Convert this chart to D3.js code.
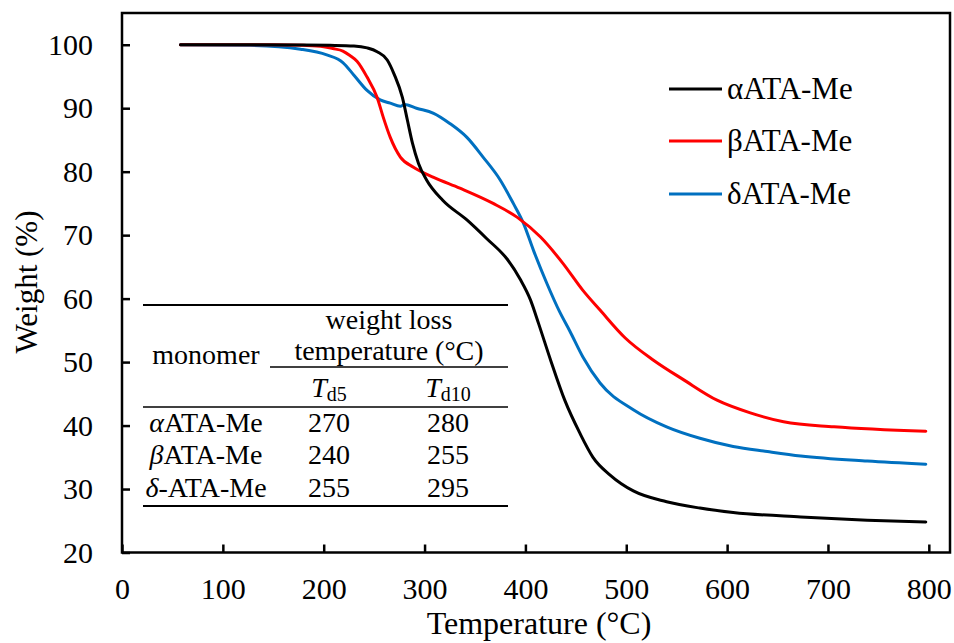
<!DOCTYPE html>
<html>
<head>
<meta charset="utf-8">
<script src="https://cdn.jsdelivr.net/npm/d3@7"></script>
<style>
  html, body { margin: 0; padding: 0; background: #fff; }
  svg, svg text { font-family: "Liberation Serif", "DejaVu Serif", serif; }
</style>
</head>
<body>
<svg id="chart" width="954" height="643"></svg>
<script>
// TGA curves: temperature (°C) and remaining weight (%)
const tempAlpha = [58, 127, 180, 206, 230, 243, 253, 263, 270, 278, 283, 288, 294, 302, 318, 342, 362, 382, 395, 405, 413, 425, 439, 454, 467, 484, 507, 540, 573, 606, 673, 739, 797];
const weightAlpha = [100, 100, 99.95, 99.9, 99.8, 99.5, 98.9, 97.6, 95.3, 91.7, 88.1, 84.5, 81.3, 78.7, 75.5, 72.4, 69.4, 66.2, 63.0, 59.8, 56.1, 50.3, 44.0, 38.8, 35.0, 32.2, 29.7, 28.0, 27.0, 26.3, 25.6, 25.1, 24.8];

const tempBeta = [58, 150, 180, 200, 209, 219, 226, 233, 243, 253, 259, 266, 276, 289, 309, 335, 368, 392, 415, 437, 457, 474, 499, 527, 557, 590, 623, 656, 706, 797];
const weightBeta = [100, 100, 99.9, 99.7, 99.4, 99.0, 98.3, 97.4, 94.9, 91.7, 88.6, 85.4, 82.3, 80.7, 79.1, 77.4, 75.0, 72.8, 69.7, 65.6, 61.3, 58.2, 53.8, 50.3, 47.2, 44.0, 42.0, 40.6, 39.8, 39.1];

const tempDelta = [58, 127, 177, 203, 219, 230, 243, 256, 266, 276, 280, 292, 309, 325, 342, 358, 375, 388, 398, 408, 421, 434, 444, 457, 474, 507, 540, 573, 606, 640, 673, 739, 797];
const weightDelta = [100, 99.9, 99.3, 98.4, 97.2, 95.2, 92.8, 91.3, 90.8, 90.3, 90.6, 90.0, 89.2, 87.6, 85.4, 82.3, 78.7, 75.0, 71.9, 67.6, 62.5, 57.9, 54.9, 50.8, 46.7, 42.5, 39.8, 38.0, 36.7, 35.9, 35.2, 34.4, 33.9];

const seriesNames = ["\u03b1ATA-Me", "\u03b2ATA-Me", "\u03b4ATA-Me"];
const seriesColors = ["#000000", "#ff0000", "#0070c0"];

const xTicks = [0, 100, 200, 300, 400, 500, 600, 700, 800];
const yTicks = [20, 30, 40, 50, 60, 70, 80, 90, 100];

// Inset table of decomposition temperatures
const tableMonomers = [["\u03b1", "ATA-Me"], ["\u03b2", "ATA-Me"], ["\u03b4", "-ATA-Me"]];
const tableTd5 = [270, 240, 255];
const tableTd10 = [280, 255, 295];

const serif = '"Liberation Serif", "DejaVu Serif", serif';
const svg = d3.select("#chart");
const plotLeft = 122, plotRight = 950, plotTop = 13, plotBottom = 552.5;

const x = d3.scaleLinear().domain([0, 821]).range([plotLeft, plotRight]);
const y = d3.scaleLinear().domain([20, 105]).range([plotBottom, plotTop]);

// Axes with inward ticks
const xAxis = svg.append("g")
  .attr("transform", `translate(0,${plotBottom})`)
  .call(d3.axisBottom(x).tickValues(xTicks).tickSize(-8).tickPadding(25).tickFormat(d3.format("d")));
const yAxis = svg.append("g")
  .attr("transform", `translate(${plotLeft},0)`)
  .call(d3.axisLeft(y).tickValues(yTicks).tickSize(-8).tickPadding(29).tickFormat(d3.format("d")));

[xAxis, yAxis].forEach(g => {
  g.attr("font-family", serif).attr("font-size", 30);
  g.select(".domain").remove();
  g.selectAll(".tick line").attr("stroke", "#000").attr("stroke-width", 2.5);
  g.selectAll(".tick text").attr("fill", "#000");
});

// Plot frame
svg.append("rect")
  .attr("x", plotLeft).attr("y", plotTop)
  .attr("width", plotRight - plotLeft).attr("height", plotBottom - plotTop)
  .attr("fill", "none").attr("stroke", "#000").attr("stroke-width", 2.5);

// Axis titles
svg.append("text")
  .attr("x", 539).attr("y", 634)
  .attr("text-anchor", "middle")
  .attr("font-family", serif).attr("font-size", 32)
  .text("Temperature (\u00b0C)");
svg.append("text")
  .attr("transform", "translate(37,282) rotate(-90)")
  .attr("text-anchor", "middle")
  .attr("font-family", serif).attr("font-size", 31)
  .text("Weight (%)");

// Curves
const line = d3.line()
  .x(d => x(d[0]))
  .y(d => y(d[1]))
  .curve(d3.curveMonotoneX);

const series = [
  d3.zip(tempAlpha, weightAlpha),
  d3.zip(tempBeta, weightBeta),
  d3.zip(tempDelta, weightDelta)
];
// blue and red go down first so black sits on top where they overlap at 100 %
[2, 1, 0].forEach(i => {
  svg.append("path")
    .datum(series[i])
    .attr("d", line)
    .attr("fill", "none")
    .attr("stroke", seriesColors[i])
    .attr("stroke-width", 3)
    .attr("stroke-linejoin", "round")
    .attr("stroke-linecap", "round");
});

// Legend
const legend = svg.append("g").attr("font-family", serif).attr("font-size", 31);
const legendY = [89, 141, 194];
seriesNames.forEach((name, i) => {
  legend.append("line")
    .attr("x1", 669).attr("x2", 722)
    .attr("y1", legendY[i]).attr("y2", legendY[i])
    .attr("stroke", seriesColors[i]).attr("stroke-width", 3);
  legend.append("text")
    .attr("x", 727).attr("y", legendY[i] + 10)
    .text(name);
});

// Table
const tbl = svg.append("g").attr("font-family", serif).attr("font-size", 28);
const rule = (x1, x2, yy, w) => tbl.append("line")
  .attr("x1", x1).attr("x2", x2).attr("y1", yy).attr("y2", yy)
  .attr("stroke", "#000").attr("stroke-width", w);
rule(143, 508, 305, 2);
rule(270, 508, 367, 1.3);
rule(143, 508, 407, 1.3);
rule(143, 508, 506, 2);

tbl.append("text").attr("x", 389).attr("y", 329).attr("text-anchor", "middle").text("weight loss");
tbl.append("text").attr("x", 389).attr("y", 360).attr("text-anchor", "middle").text("temperature (\u00b0C)");
tbl.append("text").attr("x", 206).attr("y", 364).attr("text-anchor", "middle").text("monomer");

const colX = [329, 448];
["d5", "d10"].forEach((sub, i) => {
  const t = tbl.append("text").attr("x", colX[i]).attr("y", 397).attr("text-anchor", "middle");
  t.append("tspan").attr("font-style", "italic").text("T");
  t.append("tspan").attr("dy", 4).attr("font-size", 20).text(sub);
});

const rowY = [432, 464, 497];
tableMonomers.forEach((m, i) => {
  const t = tbl.append("text").attr("x", 206).attr("y", rowY[i]).attr("text-anchor", "middle");
  t.append("tspan").attr("font-style", "italic").text(m[0]);
  t.append("tspan").text(m[1]);
  tbl.append("text").attr("x", colX[0]).attr("y", rowY[i]).attr("text-anchor", "middle").text(tableTd5[i]);
  tbl.append("text").attr("x", colX[1]).attr("y", rowY[i]).attr("text-anchor", "middle").text(tableTd10[i]);
});
</script>
</body>
</html>
